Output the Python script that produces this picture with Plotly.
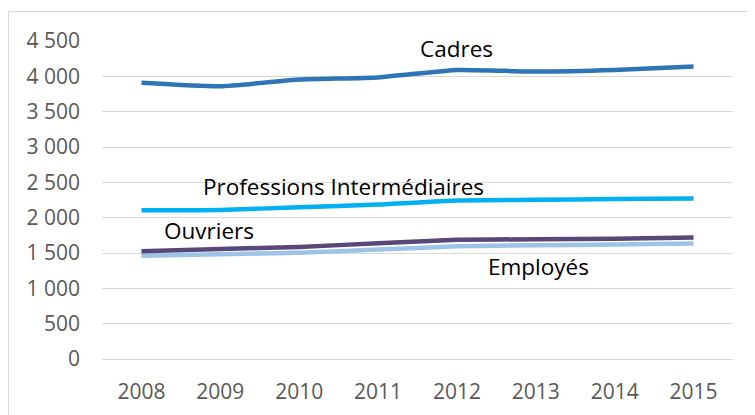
import plotly.graph_objects as go

years = [2008, 2009, 2010, 2011, 2012, 2013, 2014, 2015]
cadres = [3910, 3860, 3955, 3985, 4090, 4068, 4090, 4140]
prof_inter = [2105, 2110, 2148, 2186, 2243, 2252, 2265, 2271]
ouvriers = [1524, 1557, 1586, 1638, 1686, 1695, 1702, 1719]
employes = [1462, 1481, 1505, 1548, 1595, 1610, 1619, 1633]

y_ticks = [0, 500, 1000, 1500, 2000, 2500, 3000, 3500, 4000, 4500]
y_tick_labels = ["0", "500", "1 000", "1 500", "2 000", "2 500", "3 000", "3 500", "4 000", "4 500"]

series = [
    ("Employés", employes, "#9DC3E6"),
    ("Ouvriers", ouvriers, "#574879"),
    ("Professions Intermédiaires", prof_inter, "#00B0F0"),
    ("Cadres", cadres, "#2E75B6"),
]

labels = [
    ("Cadres", 2012.0, 4400),
    ("Professions Intermédiaires", 2010.56, 2440),
    ("Ouvriers", 2008.86, 1815),
    ("Employés", 2013.04, 1310),
]

ML, MT, PW, PH = 94, 33, 631, 318

fig = go.Figure()
for name, vals, col in series:
    fig.add_trace(go.Scatter(
        x=years, y=vals, mode="lines", name=name,
        line=dict(color=col, width=4.5, shape="spline", smoothing=0.5),
        hoverinfo="x+y+name",
    ))

for text, lx, ly in labels:
    fig.add_annotation(x=lx, y=ly, text=text, showarrow=False,
                       font=dict(family="Open Sans", size=22.5, color="#000000"),
                       xanchor="center", yanchor="middle")

fig.add_shape(type="rect", xref="paper", yref="paper",
              x0=(0.5 - ML) / PW, x1=1 + 60 / PW,
              y0=-80 / PH, y1=1 + (MT - 3.5) / PH,
              line=dict(color="#D9D9D9", width=1), fillcolor="rgba(0,0,0,0)", layer="below")

fig.update_layout(
    width=755, height=415,
    margin=dict(l=ML, r=755 - ML - PW, t=MT, b=415 - MT - PH),
    paper_bgcolor="white", plot_bgcolor="white",
    showlegend=False,
    font=dict(family="Open Sans", size=21, color="#595959"),
    xaxis=dict(range=[2007.5, 2015.5], tickvals=years, ticktext=[str(y) for y in years],
               showgrid=False, zeroline=False, showline=False, ticks="",
               ticklabelstandoff=18,
               tickfont=dict(family="Open Sans", size=21, color="#595959")),
    yaxis=dict(range=[0, 4500], tickvals=y_ticks, ticktext=y_tick_labels,
               showgrid=True, gridcolor="#D9D9D9", gridwidth=1,
               zeroline=True, zerolinecolor="#D9D9D9", zerolinewidth=1,
               showline=False, ticks="", ticklabelstandoff=21,
               tickfont=dict(family="Open Sans", size=21, color="#595959")),
)

fig.write_html("out.html")
